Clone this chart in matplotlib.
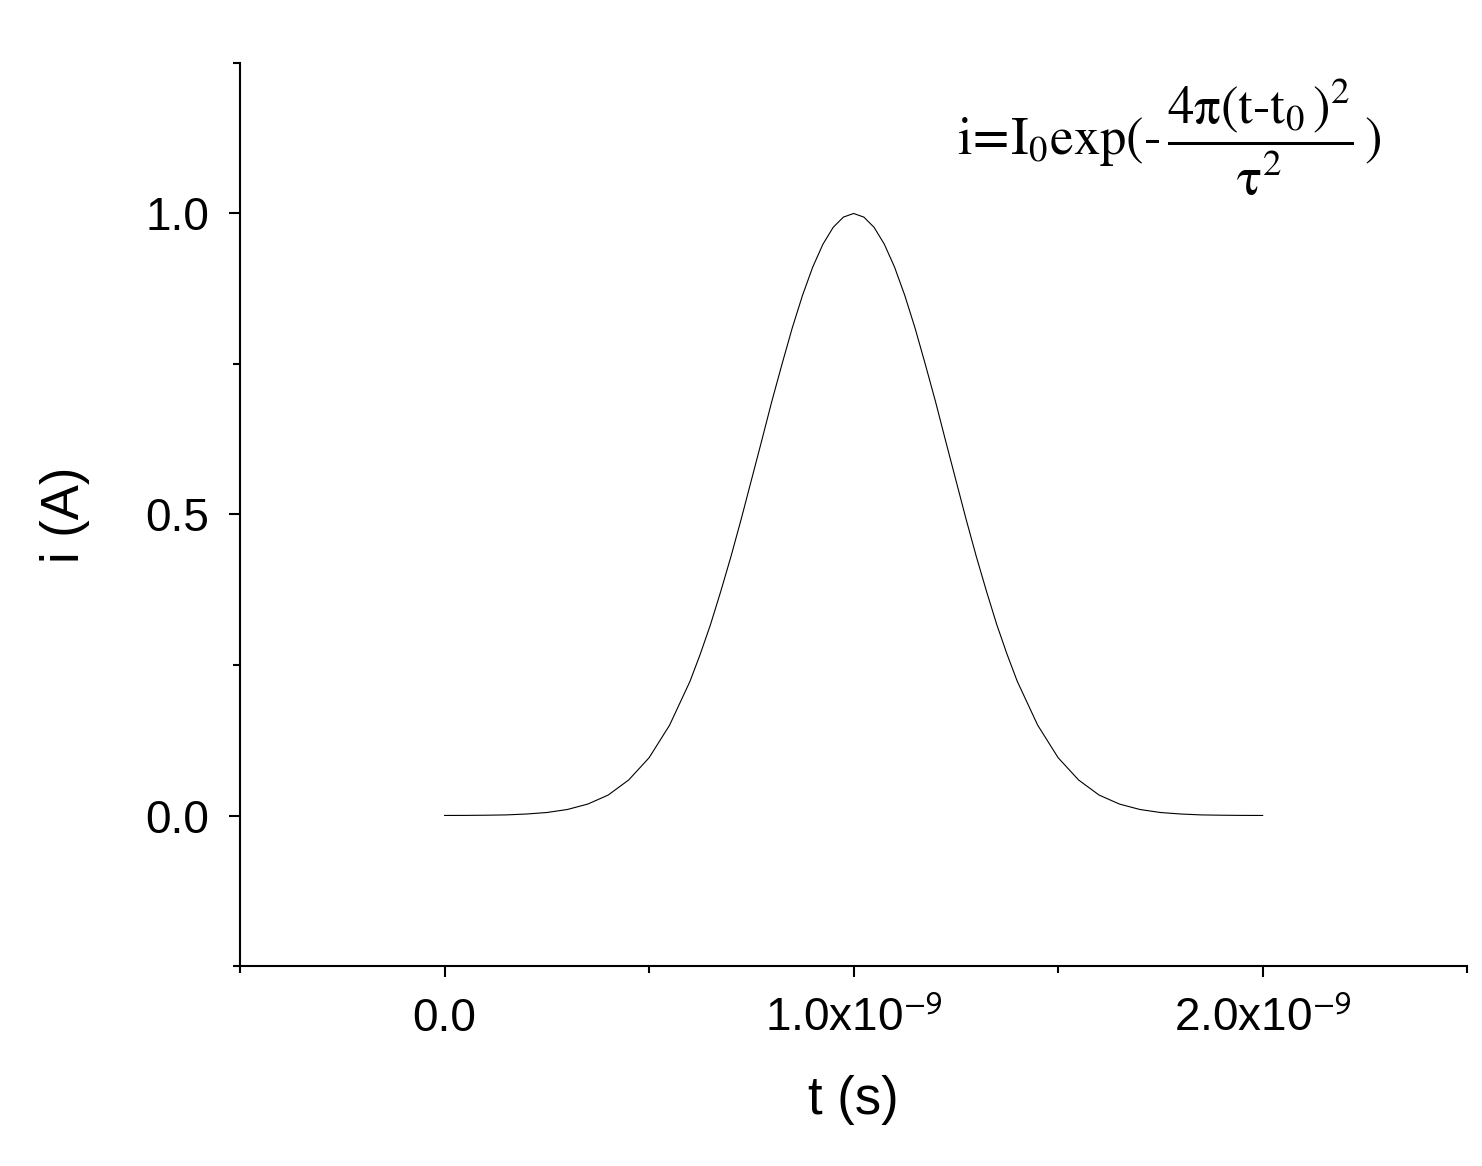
import matplotlib
matplotlib.use("Agg")
import matplotlib.pyplot as plt
from matplotlib.ticker import MultipleLocator, FixedLocator

plt.rcParams['font.family'] = ['Liberation Sans', 'DejaVu Sans']
plt.rcParams['mathtext.fontset'] = 'stix'

# current pulse (t in ns, i in A)
t_ns = [0.0, 0.05, 0.1, 0.15, 0.2, 0.25, 0.3, 0.35, 0.4, 0.45, 0.5, 0.55, 0.6, 0.625,
        0.65, 0.675, 0.7, 0.725, 0.75, 0.775, 0.8, 0.825, 0.85, 0.875, 0.9, 0.925,
        0.95, 0.975, 1.0, 1.025, 1.05, 1.075, 1.1, 1.125, 1.15, 1.175, 1.2, 1.225,
        1.25, 1.275, 1.3, 1.325, 1.35, 1.375, 1.4, 1.45, 1.5, 1.55, 1.6, 1.65, 1.7,
        1.75, 1.8, 1.85, 1.9, 1.95, 2.0]
i_amp = [0.0001, 0.0002, 0.0005, 0.001, 0.0025, 0.005, 0.010, 0.019, 0.034, 0.059,
         0.096, 0.150, 0.223, 0.268, 0.317, 0.372, 0.430, 0.492, 0.557, 0.622, 0.688,
         0.750, 0.810, 0.864, 0.911, 0.949, 0.977, 0.994, 1.0, 0.994, 0.977, 0.949,
         0.911, 0.864, 0.810, 0.750, 0.688, 0.622, 0.557, 0.492, 0.430, 0.372, 0.317,
         0.268, 0.223, 0.150, 0.096, 0.059, 0.034, 0.019, 0.010, 0.005, 0.0025, 0.001,
         0.0005, 0.0002, 0.0001]
t = [v * 1e-9 for v in t_ns]

fig = plt.figure(figsize=(14.82, 11.66), dpi=100)
ax = fig.add_axes([0.162, 0.1715, 0.828, 0.7745])
ax.plot(t, i_amp, color='black', lw=0.8)

ax.set_xlim(-0.5e-9, 2.5e-9)
ax.set_ylim(-0.25, 1.25)
ax.spines['top'].set_visible(False)
ax.spines['right'].set_visible(False)
for s in ['left', 'bottom']:
    ax.spines[s].set_linewidth(1.5)

ax.xaxis.set_major_locator(FixedLocator([0, 1e-9, 2e-9]))
ax.xaxis.set_minor_locator(FixedLocator([-0.5e-9, 0.5e-9, 1.5e-9, 2.5e-9]))
ax.set_xticklabels(['0.0', r'1.0x10$^{\mathsf{-9}}$', r'2.0x10$^{\mathsf{-9}}$'])
ax.yaxis.set_minor_locator(MultipleLocator(0.25))
ax.set_yticks([0, 0.5, 1.0])
ax.set_yticklabels(['0.0', '0.5', '1.0'])
ax.tick_params(which='both', direction='out', width=1.5, labelsize=33)
ax.tick_params(which='major', length=8, pad=14)
ax.tick_params(which='minor', length=5)

ax.set_xlabel('t (s)', fontsize=38, labelpad=25)
ax.set_ylabel('i (A)', fontsize=38, labelpad=40)

ax.text(0.93, 0.985, r'$\mathrm{i\!=\!I_0exp(\text{-}\,\dfrac{4\pi(t\text{-}t_0\,)^2}{\tau^2}\,)}$',
        transform=ax.transAxes, ha='right', va='top', fontsize=38)

fig.savefig('out.png', dpi=100)
